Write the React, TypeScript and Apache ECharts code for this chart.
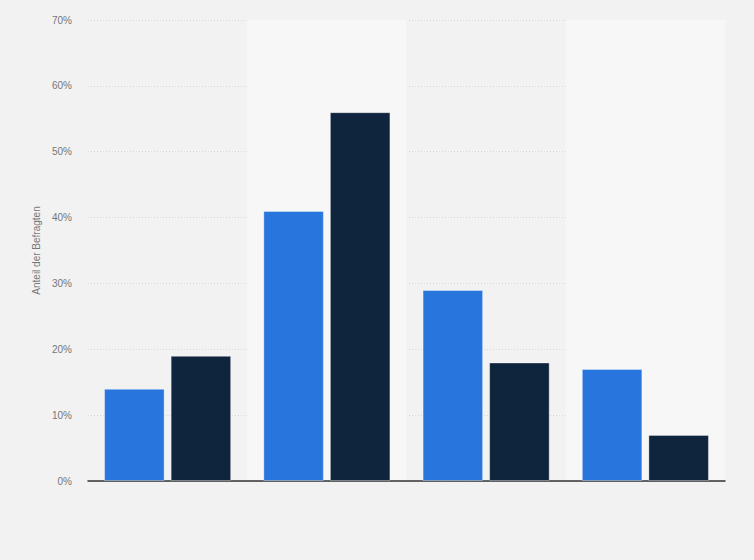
import React, { useEffect, useRef } from "react";
import * as echarts from "echarts";

const categories = ["Kategorie 1", "Kategorie 2", "Kategorie 3", "Kategorie 4"];
const seriesNames = ["Serie 1", "Serie 2"];
const seriesA = [14, 41, 29, 17];
const seriesB = [19, 56, 18, 7];
const yTicks = { min: 0, max: 70, interval: 10 };

export default function App() {
  const ref = useRef<HTMLDivElement>(null);
  useEffect(() => {
    if (!ref.current) return;
    const chart = echarts.init(ref.current, null, { renderer: "svg" });
    chart.setOption({
      animation: false,
      backgroundColor: "#f2f2f2",
      textStyle: { fontFamily: "'Liberation Sans', Arial, sans-serif" },
      grid: { left: 88, right: 29, top: 20, bottom: 79 },
      xAxis: {
        type: "category",
        data: categories,
        axisLine: { show: true, lineStyle: { color: "#333", width: 1.5 } },
        axisTick: { show: false },
        axisLabel: { show: false },
        splitArea: {
          show: true,
          areaStyle: { color: ["rgba(0,0,0,0)", "#f7f7f7"] },
        },
      },
      yAxis: {
        type: "value",
        min: yTicks.min,
        max: yTicks.max,
        interval: yTicks.interval,
        name: "Anteil der Befragten",
        nameLocation: "middle",
        nameGap: 42,
        nameRotate: 90,
        nameTextStyle: { color: "#777", fontSize: 10 },
        axisLine: { show: false },
        axisTick: { show: false },
        axisLabel: {
          color: "#777",
          fontSize: 10,
          margin: 16,
          formatter: (v: number) => v + "%",
        },
        splitLine: { lineStyle: { color: "#d6d6d6", type: [1, 2], width: 1 } },
      },
      series: [
        {
          name: seriesNames[0],
          type: "bar",
          data: seriesA,
          barWidth: "38%",
          barGap: "10%",
          itemStyle: { color: "#2876dd", borderColor: "rgba(255,255,255,0.35)", borderWidth: 1 },
        },
        {
          name: seriesNames[1],
          type: "bar",
          data: seriesB,
          barWidth: "38%",
          barGap: "10%",
          itemStyle: { color: "#0f253d", borderColor: "rgba(255,255,255,0.35)", borderWidth: 1 },
        },
      ],
    });
    return () => chart.dispose();
  }, []);
  return (
    <div
      ref={ref}
      style={{ position: "fixed", left: 0, top: 0, width: 754, height: 560 }}
    />
  );
}
